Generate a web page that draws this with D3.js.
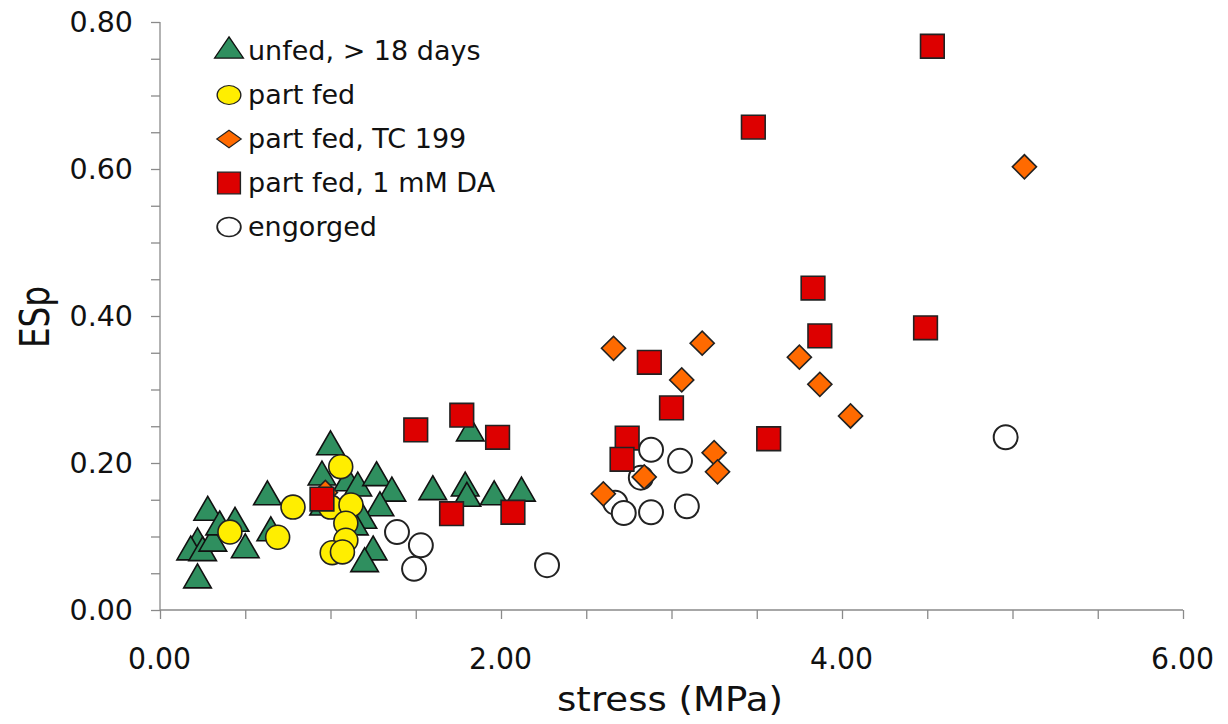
<!DOCTYPE html>
<html>
<head>
<meta charset="utf-8">
<script src="https://cdn.jsdelivr.net/npm/d3@7"></script>
<style>
  body { margin: 0; background: #fff; }
  text { font-family: "DejaVu Sans", sans-serif; }
</style>
</head>
<body>
<script>
// values: [stress MPa, ESp]
var unfed = [
  [0.22, 0.041], [0.22, 0.090], [0.18, 0.079], [0.25, 0.078], [0.28, 0.133],
  [0.31, 0.091], [0.35, 0.113], [0.44, 0.118], [0.50, 0.082], [0.63, 0.154],
  [0.65, 0.105], [1.00, 0.222], [0.95, 0.181], [0.96, 0.140], [1.10, 0.173],
  [1.16, 0.166], [1.27, 0.180], [1.36, 0.159], [1.29, 0.139], [1.19, 0.122],
  [1.14, 0.113], [1.25, 0.079], [1.20, 0.063], [1.60, 0.161], [1.82, 0.241],
  [1.79, 0.166], [1.80, 0.152], [1.96, 0.154], [2.12, 0.159]
];
var partFed = [
  [1.06, 0.195], [0.78, 0.140], [0.41, 0.106], [0.69, 0.099], [1.00, 0.140],
  [1.12, 0.143], [1.09, 0.118], [1.09, 0.095], [1.01, 0.078], [1.07, 0.079]
];
var partFedTC = [
  [5.07, 0.603], [2.66, 0.356], [3.18, 0.363], [3.06, 0.313], [3.75, 0.344],
  [3.87, 0.307], [4.05, 0.264], [3.25, 0.214], [3.27, 0.188], [2.84, 0.181],
  [2.60, 0.158], [0.97, 0.160]
];
var partFedDA = [
  [4.53, 0.767], [3.48, 0.657], [3.83, 0.438], [3.87, 0.373], [4.49, 0.384],
  [2.87, 0.337], [3.00, 0.275], [2.74, 0.234], [2.71, 0.205], [3.57, 0.233],
  [1.50, 0.245], [1.77, 0.265], [1.98, 0.235], [1.71, 0.131], [2.07, 0.133],
  [0.95, 0.151]
];
var engorged = [
  [4.96, 0.235], [2.88, 0.218], [3.05, 0.203], [2.67, 0.146], [2.72, 0.132],
  [2.88, 0.133], [3.09, 0.141], [2.82, 0.180], [1.39, 0.106], [1.53, 0.088],
  [1.49, 0.056], [2.27, 0.061]
];
var xTicks = [0, 2, 4, 6];
var yTicks = [0, 0.2, 0.4, 0.6, 0.8];
var legendLabels = ["unfed, > 18 days", "part fed", "part fed, TC 199", "part fed, 1 mM DA", "engorged"];

var W = 1228, H = 724;
var svg = d3.select("body").append("svg").attr("width", W).attr("height", H);

var x = d3.scaleLinear().domain([0, 6]).range([160, 1183]);
var y = d3.scaleLinear().domain([0, 0.8]).range([610, 22]);

// axes, minor ticks every 0.5 / 0.05
var axisColor = "#8a8a8a";
var xAxis = svg.append("g").attr("transform", "translate(0,610)")
  .call(d3.axisBottom(x).tickValues(d3.range(0, 6.01, 0.5)).tickSize(9).tickFormat(""));
var yAxis = svg.append("g").attr("transform", "translate(160,0)")
  .call(d3.axisLeft(y).tickValues(d3.range(0, 0.801, 0.05)).tickSize(9).tickFormat(""));
svg.selectAll(".domain, .tick line").attr("stroke", axisColor).attr("stroke-width", 1.3);
xAxis.select(".domain").attr("d", "M160,0H1183");
yAxis.select(".domain").attr("d", "M0,22V610");

svg.selectAll(".ylab").data(yTicks).enter().append("text")
  .attr("x", 133).attr("y", function (d) { return y(d) + 10; })
  .attr("text-anchor", "end").attr("font-size", 28.5).attr("fill", "#111")
  .text(function (d) { return d.toFixed(2); });

svg.selectAll(".xlab").data(xTicks).enter().append("text")
  .attr("x", function (d) { return x(d) - 32; }).attr("y", 669)
  .attr("font-size", 31).attr("fill", "#111")
  .attr("textLength", 63).attr("lengthAdjust", "spacingAndGlyphs")
  .text(function (d) { return d.toFixed(2); });

svg.append("text").attr("x", 557).attr("y", 711)
  .attr("font-size", 33).attr("fill", "#111")
  .attr("textLength", 226).attr("lengthAdjust", "spacingAndGlyphs")
  .text("stress (MPa)");

svg.append("text").attr("transform", "translate(49,348) rotate(-90)")
  .attr("font-size", 40).attr("fill", "#111")
  .attr("textLength", 62).attr("lengthAdjust", "spacingAndGlyphs")
  .text("ESp");

// markers
var styles = [
  { type: d3.symbolTriangle, size: 330, rot: 0, fill: "#2f8f5f", stroke: "#111", sw: 1.6 },
  { type: d3.symbolCircle, size: 450, rot: 0, fill: "#ffee00", stroke: "#222", sw: 1.6 },
  { type: d3.symbolSquare, size: 290, rot: 45, fill: "#ff6a00", stroke: "#222", sw: 1.6 },
  { type: d3.symbolSquare, size: 560, rot: 0, fill: "#dd0000", stroke: "#222", sw: 1.6 },
  { type: d3.symbolCircle, size: 450, rot: 0, fill: "#fff", stroke: "#222", sw: 2 }
];
var sets = [unfed, partFed, partFedTC, partFedDA, engorged];
var drawOrder = [4, 0, 1, 2, 3];

drawOrder.forEach(function (k) {
  var s = styles[k];
  svg.append("g").selectAll("path").data(sets[k]).enter().append("path")
    .attr("transform", function (d) {
      return "translate(" + x(d[0]) + "," + y(d[1]) + ") rotate(" + s.rot + ")";
    })
    .attr("d", d3.symbol().type(s.type).size(s.size))
    .attr("fill", s.fill).attr("stroke", s.stroke).attr("stroke-width", s.sw);
});

// legend (markers a bit flattened like the original)
var legendBase = [60, 104, 148, 192, 236];
var legendMark = [
  { size: 360, sy: 0.85 }, { size: 440, sy: 0.8 }, { size: 300, sy: 0.72 },
  { size: 520, sy: 0.95 }, { size: 440, sy: 0.8 }
];
var lg = svg.append("g");
legendLabels.forEach(function (lab, i) {
  var s = styles[i];
  lg.append("path")
    .attr("transform", "translate(229," + (legendBase[i] - 9) + ") scale(1," + legendMark[i].sy + ") rotate(" + s.rot + ")")
    .attr("d", d3.symbol().type(s.type).size(legendMark[i].size))
    .attr("fill", s.fill).attr("stroke", s.stroke).attr("stroke-width", s.sw - 0.2);
  lg.append("text").attr("x", 248).attr("y", legendBase[i])
    .attr("font-size", 27).attr("fill", "#111").text(lab);
});
</script>
</body>
</html>
